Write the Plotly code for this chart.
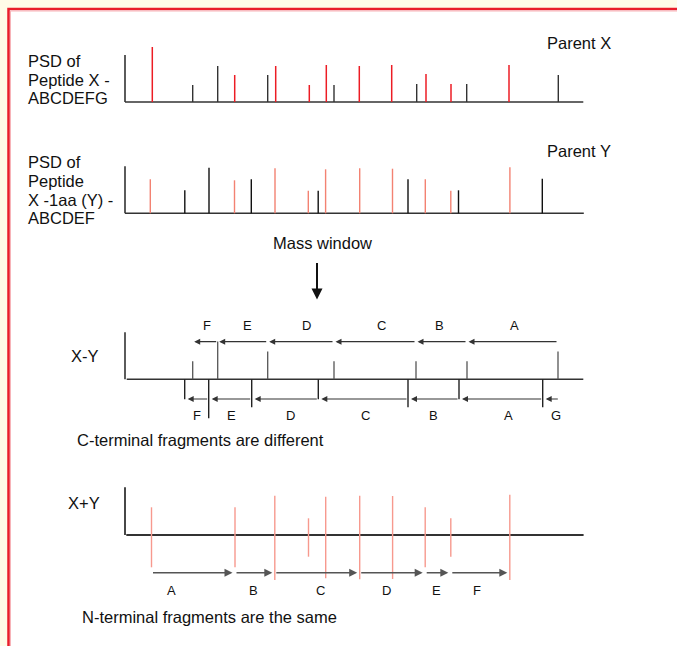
import plotly.graph_objects as go

W, H = 677, 646

# ---------------- data (mass units along the axis, intensity units) ----------------
# Panel 1: PSD of peptide X
x_red_mass = [27.3, 109.7, 150.7, 184.3, 201.3, 234.3, 266.7, 301.0, 326.0, 384.0]
x_red_int = [55, 27, 36, 17, 37, 36, 37, 28, 18, 37]
x_blk_mass = [67.7, 92.7, 142.7, 209.0, 291.7, 341.7, 433.3]
x_blk_int = [17, 36, 27, 17, 18, 18, 27]

# Panel 2: PSD of peptide Y (X - 1aa)
y_red_mass = [25.3, 109.5, 150.0, 183.3, 200.6, 234.7, 267.5, 300.3, 325.8, 384.9]
y_red_int = [34, 33, 45, 22.6, 44, 45, 44.6, 34, 22.6, 46]
y_blk_mass = [59.8, 84.0, 126.3, 193.2, 283.0, 333.5, 417.3]
y_blk_int = [23, 45.6, 34, 22.6, 34, 23, 34.6]

# Panel 3: X - Y (C-terminal fragments)
xy_up_mass = [67.7, 92.7, 142.7, 209.0, 291.0, 342.0, 433.0]
xy_up_int = [18, 37.7, 27.7, 18, 18, 18, 27.7]
xy_dn_mass = [59.7, 83.7, 126.7, 193.3, 283.0, 334.0, 417.7]
xy_dn_int = [20, 39, 28, 20, 28, 20, 28]
upper_labels = ["A", "B", "C", "D", "E", "F"]
upper_label_mass = [389.3, 314.3, 256.7, 181.7, 122.7, 82.3]
lower_labels = ["G", "A", "B", "C", "D", "E", "F"]
lower_label_mass = [430.7, 383.3, 308.3, 240.0, 165.0, 106.7, 72.3]
parent_mass = 434.3

# Panel 4: X + Y (N-terminal fragments)
sum_mass = [26.5, 110.0, 149.8, 183.5, 200.7, 234.7, 267.6, 300.2, 325.8, 384.8]
sum_up = [27.7, 27.7, 39.3, 16.7, 38.3, 39.3, 39, 27.7, 16.7, 40.3]
sum_dn = [32.3, 32.3, 45, 21.7, 43.3, 44.3, 44, 32.3, 21.7, 45]
n_term_idx = [0, 1, 2, 5, 7, 8, 9]
n_labels = ["A", "B", "C", "D", "E", "F"]
n_label_mass = [46.0, 128.3, 195.7, 261.9, 311.3, 351.8]

axis_end = 458.3
axis_top = 47

# ---------------- helpers ----------------
FONT = "Liberation Sans, Arial, sans-serif"
BIG = 16.5
SMALL = 13


def pxx(x):
    return x / W


def pxy(y):
    return 1 - y / H


def spikes(pos, lo, hi):
    xs, ys = [], []
    for p, a, b in zip(pos, lo, hi):
        xs += [p, p, None]
        ys += [a, b, None]
    return xs, ys


fig = go.Figure()


def add_lines(xs, ys, color, width, ax):
    fig.add_trace(go.Scatter(x=xs, y=ys, mode="lines",
                             line=dict(color=color, width=width),
                             xaxis="x" + ax, yaxis="y" + ax,
                             hoverinfo="skip", showlegend=False))


def add_frame(ax, x0=0.0, x1=axis_end, top=axis_top, color="#333333", width=1.6):
    add_lines([0, 0, None, x0, x1], [top, 0, None, 0, 0], color, width, ax)


RED = "#ec1c24"
SALMON = "#f38272"
PINK = "#f7998e"
DARK = "#222222"
GREY = "#555555"

# Panel 1
add_frame("1")
xs, ys = spikes(x_blk_mass, [0] * len(x_blk_mass), x_blk_int)
add_lines(xs, ys, "#333333", 1.4, "1")
xs, ys = spikes(x_red_mass, [0] * len(x_red_mass), x_red_int)
add_lines(xs, ys, RED, 1.5, "1")

# Panel 2
add_frame("2", x1=458.8)
xs, ys = spikes(y_red_mass, [0] * len(y_red_mass), y_red_int)
add_lines(xs, ys, SALMON, 1.4, "2")
xs, ys = spikes(y_blk_mass, [0] * len(y_blk_mass), y_blk_int)
add_lines(xs, ys, "#111111", 1.4, "2")

# Panel 3
add_frame("3", x0=1.7)
xs, ys = spikes(xy_up_mass, [0] * len(xy_up_mass), xy_up_int)
add_lines(xs, ys, GREY, 1.3, "3")
xs, ys = spikes(xy_dn_mass, [0] * len(xy_dn_mass), [-d for d in xy_dn_int])
add_lines(xs, ys, DARK, 1.4, "3")

# Panel 4
add_frame("4", x0=1.3, x1=458.6, top=47.7, width=1.8)
xs, ys = spikes(sum_mass, [-d for d in sum_dn], sum_up)
add_lines(xs, ys, PINK, 1.4, "4")

annotations = []


def arrow(head, tail, yv, ax, color="#333333", width=1.2, standoff=2):
    annotations.append(dict(x=head, y=yv, ax=tail, ay=yv,
                            xref="x" + ax, yref="y" + ax,
                            axref="x" + ax, ayref="y" + ax,
                            text="", showarrow=True, arrowhead=2,
                            arrowsize=1.0, arrowwidth=width,
                            arrowcolor=color, standoff=standoff))


def label(text, xv, yv, ax, size=SMALL):
    annotations.append(dict(x=xv, y=yv, xref="x" + ax, yref="y" + ax,
                            text=text, showarrow=False,
                            font=dict(family=FONT, size=size, color="#111111"),
                            xanchor="center", yanchor="middle"))


# X-Y upper arrows (peptide X C-terminal ladder)
stops = sorted(xy_up_mass, reverse=True)
for i in range(len(stops) - 1):
    arrow(stops[i + 1], stops[i], 37.6, "3", standoff=1.5)
for t, m in zip(upper_labels, upper_label_mass):
    label(t, m, 53.6, "3")

# X-Y lower arrows (peptide Y ladder)
stops = [parent_mass] + sorted(xy_dn_mass, reverse=True)
for i in range(len(stops) - 1):
    arrow(stops[i + 1], stops[i], -19.7, "3", standoff=3)
for t, m in zip(lower_labels, lower_label_mass):
    label(t, m, -35.7, "3")

# X+Y N-terminal arrows
stops = [sum_mass[i] for i in n_term_idx]
for i in range(len(stops) - 1):
    arrow(stops[i + 1], stops[i], -37.7, "4", color="#555555", width=1.6, standoff=2.5)
for t, m in zip(n_labels, n_label_mass):
    label(t, m, -55.7, "4")


def text(t, x, y, xanchor="left", size=BIG):
    annotations.append(dict(x=pxx(x), y=pxy(y), xref="paper", yref="paper",
                            text=t, showarrow=False, align="left",
                            font=dict(family=FONT, size=size, color="#111111"),
                            xanchor=xanchor, yanchor="middle"))


for t, yy in zip(["PSD of", "Peptide X -", "ABCDEFG"], [61, 80, 98.5]):
    text(t, 26, yy)
text("Parent X", 579, 43, xanchor="center")
for t, yy in zip(["PSD of", "Peptide", "X -1aa (Y) -", "ABCDEF"], [162, 181, 199.5, 218]):
    text(t, 26, yy)
text("Parent Y", 579, 151, xanchor="center")
text("Mass window", 322, 243, xanchor="center")
text("X-Y", 85, 356, xanchor="center")
text("C-terminal fragments are different", 75, 440)
text("X+Y", 84, 503, xanchor="center")
text("N-terminal fragments are the same", 80, 617)

# mass-window arrow
annotations.append(dict(x=pxx(317), y=pxy(299.5), xref="paper", yref="paper",
                        ax=0, ay=-38, axref="pixel", ayref="pixel",
                        text="", showarrow=True, arrowhead=2, arrowsize=1.1,
                        arrowwidth=2, arrowcolor="#111111", standoff=0))

# ---------------- axes ----------------
panels = {
    "1": (35, 110, [-8, 67]),
    "2": (155, 225, [-11.7, 58.3]),
    "3": (315, 425, [-45.7, 64.3]),
    "4": (480, 600, [-65, 55]),
}
layout_axes = {}
for k, (top, bot, yr) in panels.items():
    xname = "xaxis" if k == "1" else "xaxis" + k
    yname = "yaxis" if k == "1" else "yaxis" + k
    layout_axes[xname] = dict(domain=[0, 1], range=[-125, 552], visible=False,
                              fixedrange=True, anchor="y" if k == "1" else "y" + k)
    layout_axes[yname] = dict(domain=[pxy(bot), pxy(top)], range=yr, visible=False,
                              fixedrange=True, anchor="x" if k == "1" else "x" + k)

# panel 1 uses the default axis names
for tr in fig.data:
    if tr.xaxis == "x1":
        tr.xaxis = "x"
        tr.yaxis = "y"
for a in annotations:
    for key in ("xref", "yref", "axref", "ayref"):
        if a.get(key) == "x1":
            a[key] = "x"
        if a.get(key) == "y1":
            a[key] = "y"

shapes = [
    dict(type="rect", xref="paper", yref="paper", x0=8.5 / W, x1=1.2,
         y0=-0.2, y1=1 - 9 / H, line=dict(color="#e91d2b", width=2.5),
         fillcolor="white", layer="below"),
    dict(type="rect", xref="paper", yref="paper", x0=10.5 / W, x1=1.2,
         y0=-0.2, y1=1 - 11 / H, line=dict(color="#f7b3b8", width=1),
         fillcolor="rgba(0,0,0,0)", layer="below"),
]

fig.update_layout(width=W, height=H, autosize=False,
                  margin=dict(l=0, r=0, t=0, b=0),
                  paper_bgcolor="#fffbe8", plot_bgcolor="rgba(0,0,0,0)",
                  showlegend=False, hovermode=False,
                  annotations=annotations, shapes=shapes, **layout_axes)

fig.write_html("out.html", config={"displayModeBar": False},
               post_script="document.body.style.margin='0';document.body.style.overflow='hidden';")
